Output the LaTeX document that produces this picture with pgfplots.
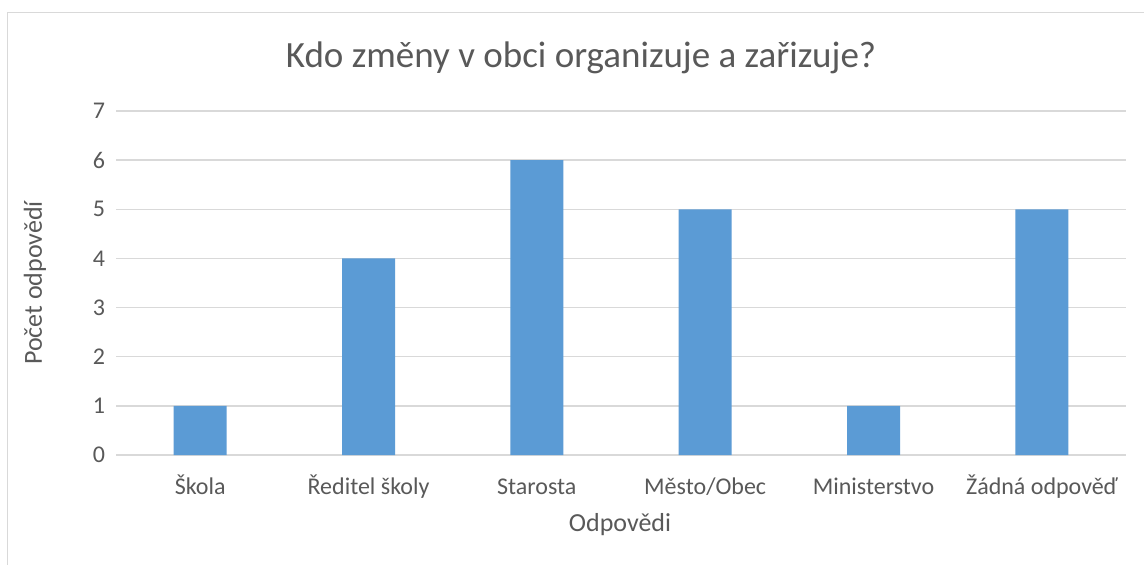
\documentclass[border=0pt]{standalone}
\usepackage{pgfplots}
\pgfplotsset{compat=1.18}
\usepackage{fontspec}
\setmainfont{Carlito}
\definecolor{barc}{HTML}{5B9BD5}
\definecolor{gridc}{HTML}{D9D9D9}
\definecolor{txt}{HTML}{595959}
\begin{document}
\begin{tikzpicture}[x=1pt,y=1pt]
\useasboundingbox (0,0) rectangle (572,282);
\fill[white] (0,0) rectangle (572,282);
\draw[draw=gridc, line width=0.75pt] (3.75,-5) -- (3.75,275.75) -- (580,275.75);
\begin{axis}[
  at={(58pt,54.5pt)}, anchor=south west,
  scale only axis, width=505pt, height=172pt,
  xmin=-0.5, xmax=5.5, ymin=0, ymax=7,
  xtick={0,1,2,3,4,5},
  xticklabels={Škola, Ředitel školy, Starosta, Město/Obec, Ministerstvo, Žádná odpověď},
  ytick={0,1,...,7},
  axis line style={draw=none},
  major tick length=0pt,
  tick style={draw=none},
  xmajorgrids=false,
  ymajorgrids, grid style={draw=gridc, line width=0.75pt},
  ticklabel style={font=\fontsize{12}{14}\selectfont, text=txt},
  /pgf/number format/assume math mode=true,
  yticklabel style={xshift=-2pt},
  xticklabel style={anchor=base, yshift=-19.5pt},
  clip=false,
]
\addplot[ybar, bar width=26.5pt, fill=barc, draw=none] coordinates {(0,1) (1,4) (2,6) (3,5) (4,1) (5,5)};
\end{axis}
\node[text=txt, font=\fontsize{18.5}{22}\selectfont] at (290.5,253) {Kdo změny v obci organizuje a zařizuje?};
\node[text=txt, font=\fontsize{13}{15}\selectfont] at (310,19.5) {Odpovědi};
\node[text=txt, font=\fontsize{13}{15}\selectfont, rotate=90] at (17.5,140.5) {Počet odpovědí};
\end{tikzpicture}
\end{document}
